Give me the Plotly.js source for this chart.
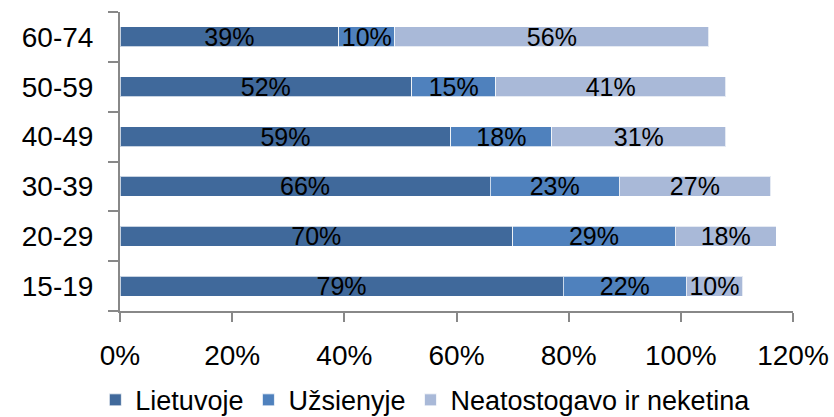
<!DOCTYPE html>
<html>
<head>
<meta charset="utf-8">
<script src="https://cdn.plot.ly/plotly-3.0.1.min.js"></script>
<style>
  html, body { margin: 0; padding: 0; background: #fff; }
  #chart { width: 834px; height: 417px; }
</style>
</head>
<body>
<div id="chart"></div>
<script>
// age groups, bottom to top
var ageGroups = ['15-19', '20-29', '30-39', '40-49', '50-59', '60-74'];

// shares in percent
var lietuvoje = [79, 70, 66, 59, 52, 39];
var uzsienyje = [22, 29, 23, 18, 15, 10];
var neatostogavo = [10, 18, 27, 31, 41, 56];

var seriesNames = ['Lietuvoje', 'Užsienyje', 'Neatostogavo ir neketina'];
var xTickVals = [0, 20, 40, 60, 80, 100, 120];

var fontFam = '"Liberation Sans", Arial, sans-serif';

function pctLabels(arr) {
  return arr.map(function (v) { return v + '%'; });
}

function makeTrace(vals, name, color) {
  return {
    type: 'bar',
    orientation: 'h',
    y: ageGroups,
    x: vals,
    name: name,
    text: pctLabels(vals),
    textposition: 'inside',
    insidetextanchor: 'middle',
    constraintext: 'none',
    textfont: { family: fontFam, size: 25, color: '#000' },
    marker: {
      color: color,
      line: { color: 'rgba(255,255,255,0.7)', width: 1 }
    },
    hoverinfo: 'none'
  };
}

var data = [
  makeTrace(lietuvoje, seriesNames[0], '#40699B'),
  makeTrace(uzsienyje, seriesNames[1], '#4F81BD'),
  makeTrace(neatostogavo, seriesNames[2], '#A9B9D8')
];

var layout = {
  width: 834,
  height: 417,
  barmode: 'stack',
  bargap: 0.6,
  paper_bgcolor: '#fff',
  plot_bgcolor: '#fff',
  font: { family: fontFam, size: 28, color: '#000' },
  margin: { l: 120, r: 41, t: 12, b: 106, pad: 0 },
  xaxis: {
    range: [0, 120],
    tickvals: xTickVals,
    ticktext: xTickVals.map(function (v) { return v + '%'; }),
    showgrid: false,
    zeroline: false,
    showline: true,
    linecolor: '#888',
    linewidth: 2,
    ticks: 'outside',
    ticklen: 9,
    tickwidth: 2,
    tickcolor: '#888',
    ticklabelstandoff: 9,
    tickfont: { size: 28 },
    fixedrange: true
  },
  yaxis: {
    type: 'category',
    categoryorder: 'array',
    categoryarray: ageGroups,
    tickson: 'boundaries',
    showgrid: false,
    zeroline: false,
    showline: true,
    linecolor: '#888',
    linewidth: 2,
    ticks: 'outside',
    ticklen: 10,
    tickwidth: 2,
    tickcolor: '#888',
    ticklabelstandoff: 19,
    tickfont: { size: 28 },
    fixedrange: true
  },
  showlegend: true,
  legend: {
    orientation: 'h',
    xref: 'container',
    yref: 'container',
    x: 0.51,
    xanchor: 'center',
    y: 0.04,
    yanchor: 'middle',
    font: { size: 27 },
    itemwidth: 30,
    traceorder: 'normal'
  }
};

Plotly.newPlot('chart', data, layout, { displayModeBar: false, staticPlot: true });
</script>
</body>
</html>
